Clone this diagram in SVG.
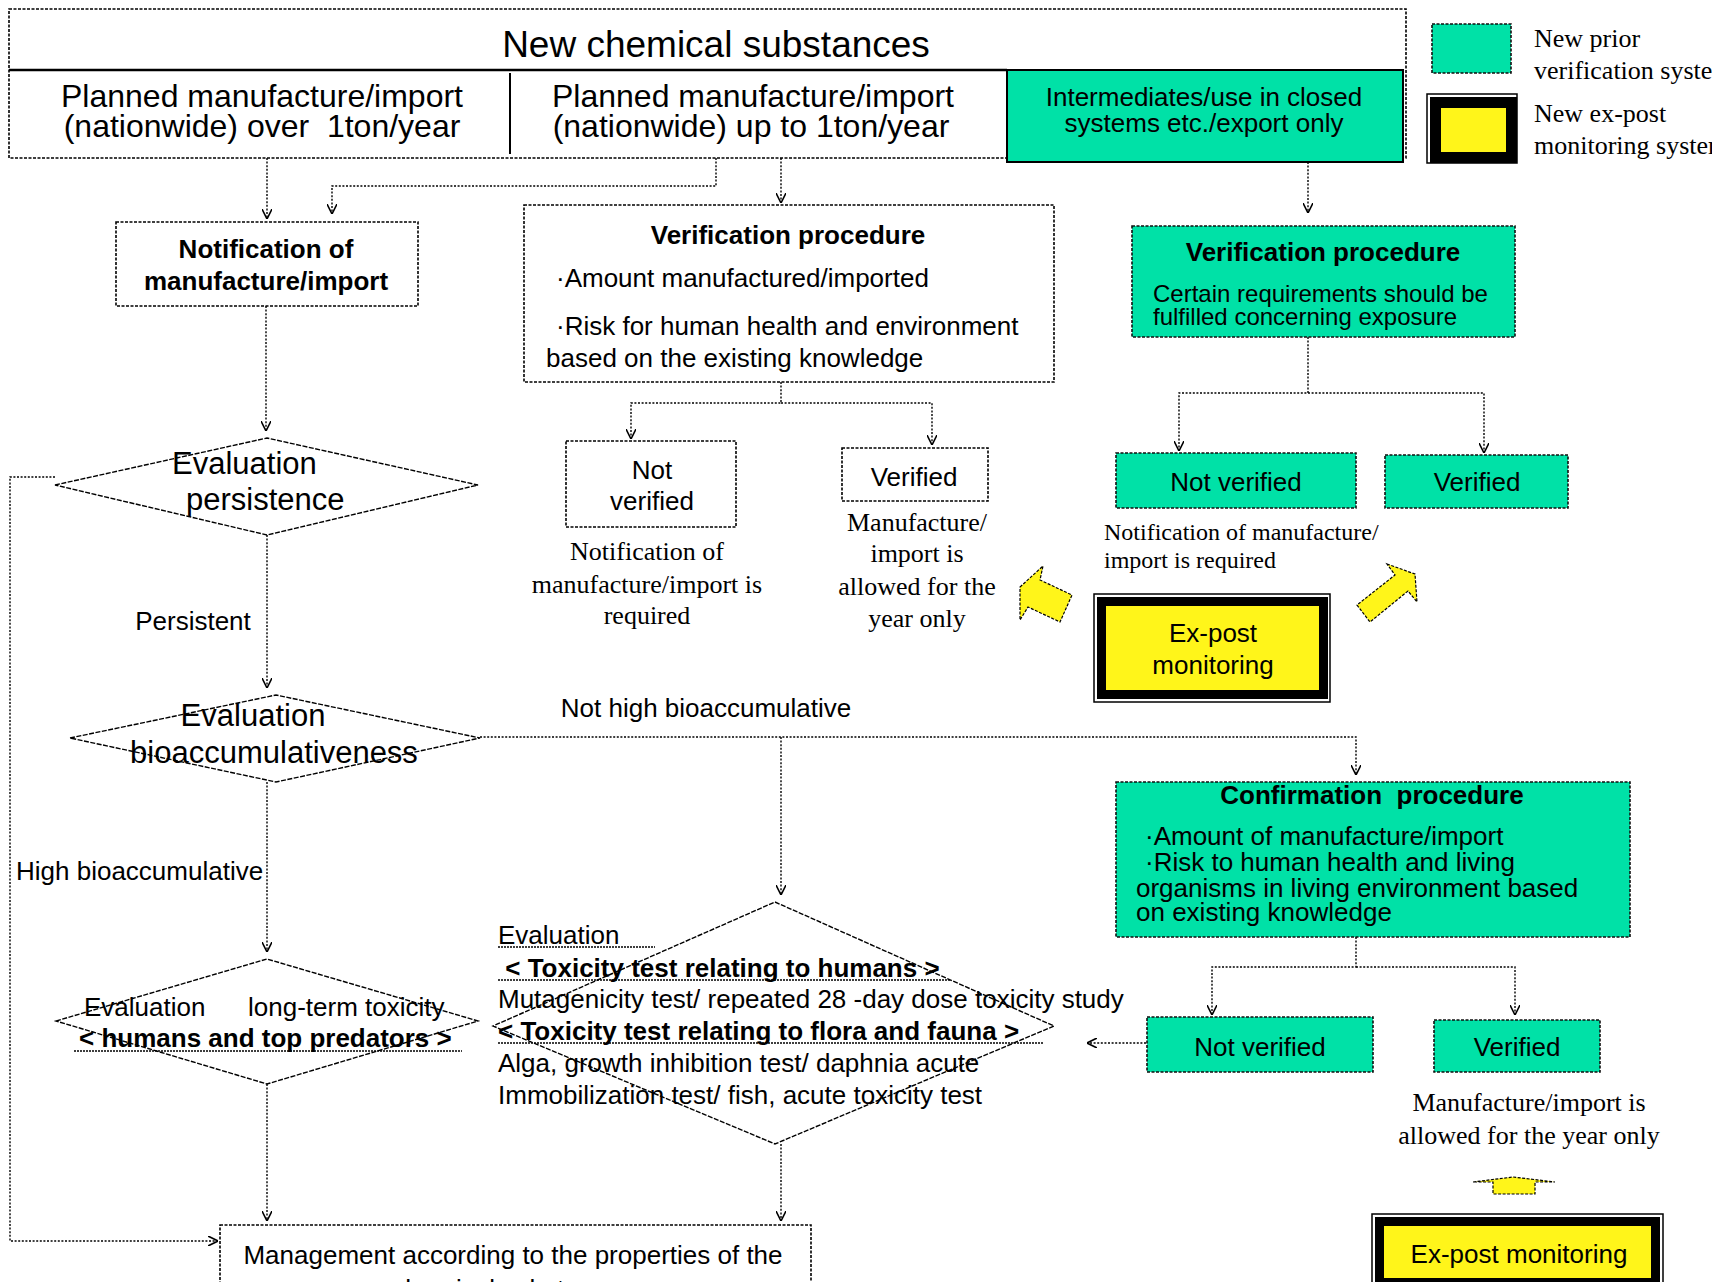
<svg xmlns="http://www.w3.org/2000/svg" width="1712" height="1282" viewBox="0 0 1712 1282">
<defs>
<style>
text{font-family:"Liberation Sans",Arial,sans-serif;font-size:26px;fill:#000}
.serif{font-family:"Liberation Serif","Times New Roman",serif}
.b{font-weight:bold}
.m{text-anchor:middle}
.box{fill:#fff;stroke:#000;stroke-width:1.6;stroke-dasharray:3 1.5}
.gbox{fill:#00E1A7;stroke:#111;stroke-width:1.6;stroke-dasharray:3 1.5}
.dia{fill:none;stroke:#000;stroke-width:1.4;stroke-dasharray:5 1.5}
.conn{fill:none;stroke:#000;stroke-width:1.4;stroke-dasharray:2 1.6}
.ul{stroke:#000;stroke-width:1.6;stroke-dasharray:2 1}
.yarrow{fill:#FFF51A;stroke:#000;stroke-width:1.2;stroke-dasharray:3 1.5}
.ythin{fill:none;stroke:#000;stroke-width:1.5}
.yband{fill:#FFF51A;stroke:#000}
</style>
<marker id="ah" viewBox="0 0 10 10" refX="10" refY="5" markerWidth="10" markerHeight="10" markerUnits="userSpaceOnUse" orient="auto">
<path d="M0,0 L10,5 L0,10" fill="none" stroke="#000" stroke-width="1.6"/>
</marker>
</defs>
<rect width="1712" height="1282" fill="#fff"/>

<g id="top-box">
<rect x="9" y="9" width="1397" height="149" class="box"/>
<line x1="9" y1="70" x2="1007" y2="70" stroke="#000" stroke-width="2.5"/>
<line x1="510" y1="73" x2="510" y2="154" stroke="#000" stroke-width="2"/>
<text x="716" y="57" class="m" style="font-size:37px">New chemical substances</text>
<text x="262" y="107" class="m" style="font-size:32px">Planned manufacture/import</text>
<text x="262" y="137" class="m" style="font-size:32px" xml:space="preserve">(nationwide) over  1ton/year</text>
<text x="753" y="107" class="m" style="font-size:32px">Planned manufacture/import</text>
<text x="751" y="137" class="m" style="font-size:32px">(nationwide) up to 1ton/year</text>
</g>
<g id="intermediates">
<rect x="1007" y="70" width="396" height="92" fill="#00E1A7" stroke="#000" stroke-width="2"/>
<text x="1204" y="106" class="m">Intermediates/use in closed</text>
<text x="1204" y="132" class="m">systems etc./export only</text>
</g>

<g id="legend">
<rect x="1432" y="24" width="79" height="49" class="gbox"/>
<text x="1534" y="47" class="serif">New prior</text>
<text x="1534" y="79" class="serif">verification system</text>
<rect x="1427" y="94" width="90" height="69" class="ythin"/>
<rect x="1435.5" y="102.5" width="76" height="55" class="yband" stroke-width="11"/>
<text x="1534" y="122" class="serif">New ex-post</text>
<text x="1534" y="154" class="serif">monitoring system</text>
</g>

<g id="notification">
<rect x="116" y="222" width="302" height="84" class="box"/>
<text x="266" y="258" class="m b">Notification of</text>
<text x="266" y="290" class="m b">manufacture/import</text>
</g>

<g id="verification-1">
<rect x="524" y="205" width="530" height="177" class="box"/>
<text x="788" y="244" class="m b">Verification procedure</text>
<text x="556" y="287">·Amount manufactured/imported</text>
<text x="556" y="335">·Risk for human health and environment</text>
<text x="546" y="367">based on the existing knowledge</text>
</g>
<g id="not-verified-1">
<rect x="566" y="441" width="170" height="86" class="box"/>
<text x="652" y="479" class="m">Not</text>
<text x="652" y="510" class="m">verified</text>
</g>
<g id="verified-1">
<rect x="842" y="448" width="146" height="53" class="box"/>
<text x="914" y="486" class="m">Verified</text>
</g>
<g id="notes-1">
<text x="647" y="560" class="m serif">Notification of</text>
<text x="647" y="593" class="m serif">manufacture/import is</text>
<text x="647" y="624" class="m serif">required</text>
<text x="917" y="531" class="m serif">Manufacture/</text>
<text x="917" y="562" class="m serif">import is</text>
<text x="917" y="595" class="m serif">allowed for the</text>
<text x="917" y="627" class="m serif">year only</text>
</g>

<g id="verification-2">
<rect x="1132" y="226" width="383" height="111" class="gbox"/>
<text x="1323" y="261" class="m b">Verification procedure</text>
<text x="1153" y="302" style="font-size:24px">Certain requirements should be</text>
<text x="1153" y="325" style="font-size:24px">fulfilled concerning exposure</text>
</g>
<g id="not-verified-2">
<rect x="1116" y="453" width="240" height="55" class="gbox"/>
<text x="1236" y="491" class="m">Not verified</text>
</g>
<g id="verified-2">
<rect x="1385" y="455" width="183" height="53" class="gbox"/>
<text x="1477" y="491" class="m">Verified</text>
</g>
<g id="notes-2">
<text x="1104" y="540" class="serif" style="font-size:24px">Notification of manufacture/</text>
<text x="1104" y="568" class="serif" style="font-size:24px">import is required</text>
</g>

<g id="expost-1">
<rect x="1094" y="594" width="236" height="108" class="ythin"/>
<rect x="1101.5" y="601.5" width="222" height="93" class="yband" stroke-width="9"/>
<text x="1213" y="642" class="m">Ex-post</text>
<text x="1213" y="674" class="m">monitoring</text>
</g>
<g id="yellow-arrows">
<polygon class="yarrow" points="1020,587 1043,566 1040,580 1072,595 1060,622 1028,607 1020,620"/>
<polygon class="yarrow" points="1387,564 1415,574 1417,602 1408,591 1370,622 1357,605 1395,575"/>
<polygon class="yarrow" points="1473,1182 1513,1177 1555,1182 1535,1182 1535,1194 1493,1194 1493,1182"/>
</g>

<g id="eval-persistence">
<polygon class="dia" points="55,485 267,438 478,485 267,535"/>
<text x="172" y="474" style="font-size:31px">Evaluation</text>
<text x="186" y="510" style="font-size:31px">persistence</text>
</g>
<g id="eval-bio">
<polygon class="dia" points="70,738 276,695 480,738 276,782"/>
<text x="253" y="726" class="m" style="font-size:31px">Evaluation</text>
<text x="274" y="763" class="m" style="font-size:31px">bioaccumulativeness</text>
</g>
<g id="eval-longterm">
<polygon class="dia" points="56,1021 267,959 478,1021 267,1084"/>
<text x="84" y="1016">Evaluation</text>
<text x="248" y="1016">long-term toxicity</text>
<text x="79" y="1047" class="b">&lt; humans and top predators &gt;</text>
<line x1="74" y1="1051" x2="462" y2="1051" class="ul"/>
</g>
<g id="eval-toxicity">
<polygon class="dia" points="775,902 1054,1026 775,1144 493,1026"/>
<text x="498" y="944">Evaluation</text>
<line x1="498" y1="947" x2="655" y2="947" class="ul"/>
<text x="498" y="977" class="b" xml:space="preserve"> &lt; Toxicity test relating to humans &gt;</text>
<line x1="498" y1="980" x2="950" y2="980" class="ul"/>
<text x="498" y="1008">Mutagenicity test/ repeated 28 -day dose toxicity study</text>
<text x="498" y="1040" class="b">&lt; Toxicity test relating to flora and fauna &gt;</text>
<line x1="498" y1="1043" x2="1043" y2="1043" class="ul"/>
<text x="498" y="1072">Alga, growth inhibition test/ daphnia acute</text>
<text x="498" y="1104">Immobilization test/ fish, acute toxicity test</text>
</g>

<g id="confirmation">
<rect x="1116" y="782" width="514" height="155" class="gbox"/>
<text x="1372" y="804" class="m b" xml:space="preserve">Confirmation  procedure</text>
<text x="1145" y="845">·Amount of manufacture/import</text>
<text x="1145" y="871">·Risk to human health and living</text>
<text x="1136" y="897">organisms in living environment based</text>
<text x="1136" y="921">on existing knowledge</text>
</g>
<g id="not-verified-3">
<rect x="1147" y="1017" width="226" height="55" class="gbox"/>
<text x="1260" y="1056" class="m">Not verified</text>
</g>
<g id="verified-3">
<rect x="1434" y="1020" width="166" height="52" class="gbox"/>
<text x="1517" y="1056" class="m">Verified</text>
</g>
<g id="notes-3">
<text x="1529" y="1111" class="m serif">Manufacture/import is</text>
<text x="1529" y="1144" class="m serif">allowed for the year only</text>
</g>
<g id="expost-2">
<rect x="1372" y="1214" width="291" height="80" class="ythin"/>
<rect x="1379.5" y="1221.5" width="276" height="61" class="yband" stroke-width="9"/>
<text x="1519" y="1263" class="m">Ex-post monitoring</text>
</g>

<g id="management">
<rect x="220" y="1225" width="591" height="80" class="box"/>
<text x="513" y="1264" class="m">Management according to the properties of the</text>
<text x="513" y="1298" class="m">chemical substances</text>
</g>

<g id="labels">
<text x="193" y="630" class="m">Persistent</text>
<text x="706" y="717" class="m">Not high bioaccumulative</text>
<text x="16" y="880">High bioaccumulative</text>
</g>

<g id="connectors">
<path class="conn" d="M716,158 V186 H332 V214" marker-end="url(#ah)"/>
<path class="conn" d="M267,158 V219" marker-end="url(#ah)"/>
<path class="conn" d="M781,158 V203" marker-end="url(#ah)"/>
<path class="conn" d="M1308,162 V213" marker-end="url(#ah)"/>
<path class="conn" d="M781,382 V403 H631 V439" marker-end="url(#ah)"/>
<path class="conn" d="M781,403 H932 V445" marker-end="url(#ah)"/>
<path class="conn" d="M1308,337 V393 H1179 V451" marker-end="url(#ah)"/>
<path class="conn" d="M1308,393 H1484 V453" marker-end="url(#ah)"/>
<path class="conn" d="M266,306 V431" marker-end="url(#ah)"/>
<path class="conn" d="M55,477 H10 V1241 H218" marker-end="url(#ah)"/>
<path class="conn" d="M267,535 V688" marker-end="url(#ah)"/>
<path class="conn" d="M480,737 H1356 V775" marker-end="url(#ah)"/>
<path class="conn" d="M781,737 V895" marker-end="url(#ah)"/>
<path class="conn" d="M267,782 V952" marker-end="url(#ah)"/>
<path class="conn" d="M267,1084 V1221" marker-end="url(#ah)"/>
<path class="conn" d="M781,1144 V1221" marker-end="url(#ah)"/>
<path class="conn" d="M1356,937 V967 H1212 V1015" marker-end="url(#ah)"/>
<path class="conn" d="M1356,967 H1515 V1015" marker-end="url(#ah)"/>
<path class="conn" d="M1146,1043 H1087" marker-end="url(#ah)"/>
</g>
</svg>
